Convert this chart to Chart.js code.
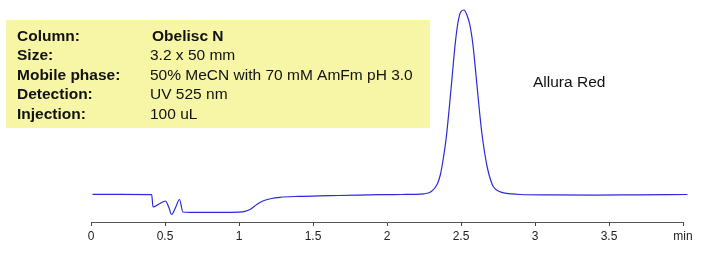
<!DOCTYPE html>
<html>
<head>
<meta charset="utf-8">
<script src="https://cdn.jsdelivr.net/npm/chart.js@4/dist/chart.umd.min.js"></script>
<style>
  html, body { margin: 0; padding: 0; background: #fff; }
  #wrap { position: relative; width: 713px; height: 263px; }
</style>
</head>
<body>
<div id="wrap"><canvas id="chrom" width="713" height="263"></canvas></div>
<script>
// Chromatogram: Allura Red on Obelisc N. Detector signal,
// in arbitrary units (no y axis is shown).

const TIMES = [0.01, 0.20, 0.41, 0.419, 0.46, 0.503, 0.525, 0.545, 0.57, 0.598, 0.621,
  0.70, 0.85, 1.00, 1.04, 1.074, 1.12, 1.161, 1.22, 1.276, 1.40, 1.614, 1.80, 1.951,
  2.10, 2.25, 2.30, 2.34, 2.36, 2.38, 2.40, 2.42, 2.44, 2.46, 2.48, 2.50, 2.52, 2.54,
  2.56, 2.58, 2.60, 2.62, 2.64, 2.66, 2.68, 2.70, 2.72, 2.76, 2.80, 2.90, 3.10, 3.40,
  3.70, 4.03];
const SIGNAL = [27.6, 27.6, 27.4, 15, 18, 21, 15, 7.5, 14, 22.5, 10,
  9.6, 9.7, 9.9, 10.6, 12.5, 17.5, 21, 23.5, 24.7, 25.6, 26.3, 26.9, 27.3,
  27.5, 28.2, 30.5, 38, 47, 63, 84, 113, 145, 177, 200, 210.5, 212, 207,
  197, 178, 149, 118, 90, 69, 53, 42, 35, 30.5, 28.8, 27.5, 27.1, 26.9,
  27.2, 27.5];

const X_TICKS = [0, 0.5, 1, 1.5, 2, 2.5, 3, 3.5, 4];
const X_TICK_LABELS = ["0", "0.5", "1", "1.5", "2", "2.5", "3", "3.5", "min"];

const INFO_LABELS = ["Column:", "Size:", "Mobile phase:", "Detection:", "Injection:"];
const INFO_VALUES = ["Obelisc N", "3.2 x 50 mm", "50% MeCN with 70 mM AmFm pH 3.0", "UV 525 nm", "100 uL"];
const PEAK_LABEL = "Allura Red";

const FONT = '"Liberation Sans", Arial, sans-serif';

// info box + peak name, drawn behind the trace
const annotations = {
  id: "annotations",
  beforeDatasetsDraw(chart) {
    const ctx = chart.ctx;
    ctx.save();
    ctx.fillStyle = "#f6f6a6";
    ctx.fillRect(6, 20, 424, 108);
    ctx.fillStyle = "#111";
    ctx.textBaseline = "alphabetic";
    INFO_LABELS.forEach((lab, i) => {
      const y = 41 + i * 19.4;
      ctx.font = "bold 15.5px " + FONT;
      ctx.fillText(lab, 17, y);
      ctx.font = (i === 0 ? "bold " : "") + "15.5px " + FONT;
      ctx.fillText(INFO_VALUES[i], i === 0 ? 152 : 150, y);
    });
    ctx.font = "15.5px " + FONT;
    ctx.fillText(PEAK_LABEL, 533, 87);
    ctx.restore();
  },
};

new Chart(document.getElementById("chrom"), {
  type: "line",
  data: {
    datasets: [{
      data: TIMES.map((t, i) => ({ x: t, y: SIGNAL[i] })),
      borderColor: "#2a2ad8",
      borderWidth: 1.2,
      pointRadius: 0,
      fill: false,
      cubicInterpolationMode: "monotone",
      clip: { left: 5, top: 5, right: 8, bottom: 5 },
    }],
  },
  options: {
    responsive: false,
    animation: false,
    layout: { padding: { left: 91, right: 30, top: 2, bottom: 0 } },
    plugins: { legend: { display: false }, tooltip: { enabled: false } },
    scales: {
      x: {
        type: "linear", min: 0, max: 4,
        afterBuildTicks: s => { s.ticks = X_TICKS.map(v => ({ value: v })); },
        afterFit: s => { s.height = 41; },
        grid: { drawOnChartArea: false, drawTicks: true, tickLength: 4, color: "#444" },
        border: { display: true, color: "#555", width: 1 },
        ticks: {
          callback: (v, i) => X_TICK_LABELS[i],
          color: "#222", padding: 3, maxRotation: 0, autoSkip: false,
          font: { family: FONT, size: 12 },
        },
      },
      y: { display: false, min: 0, max: 220 },
    },
  },
  plugins: [annotations],
});
</script>
</body>
</html>
